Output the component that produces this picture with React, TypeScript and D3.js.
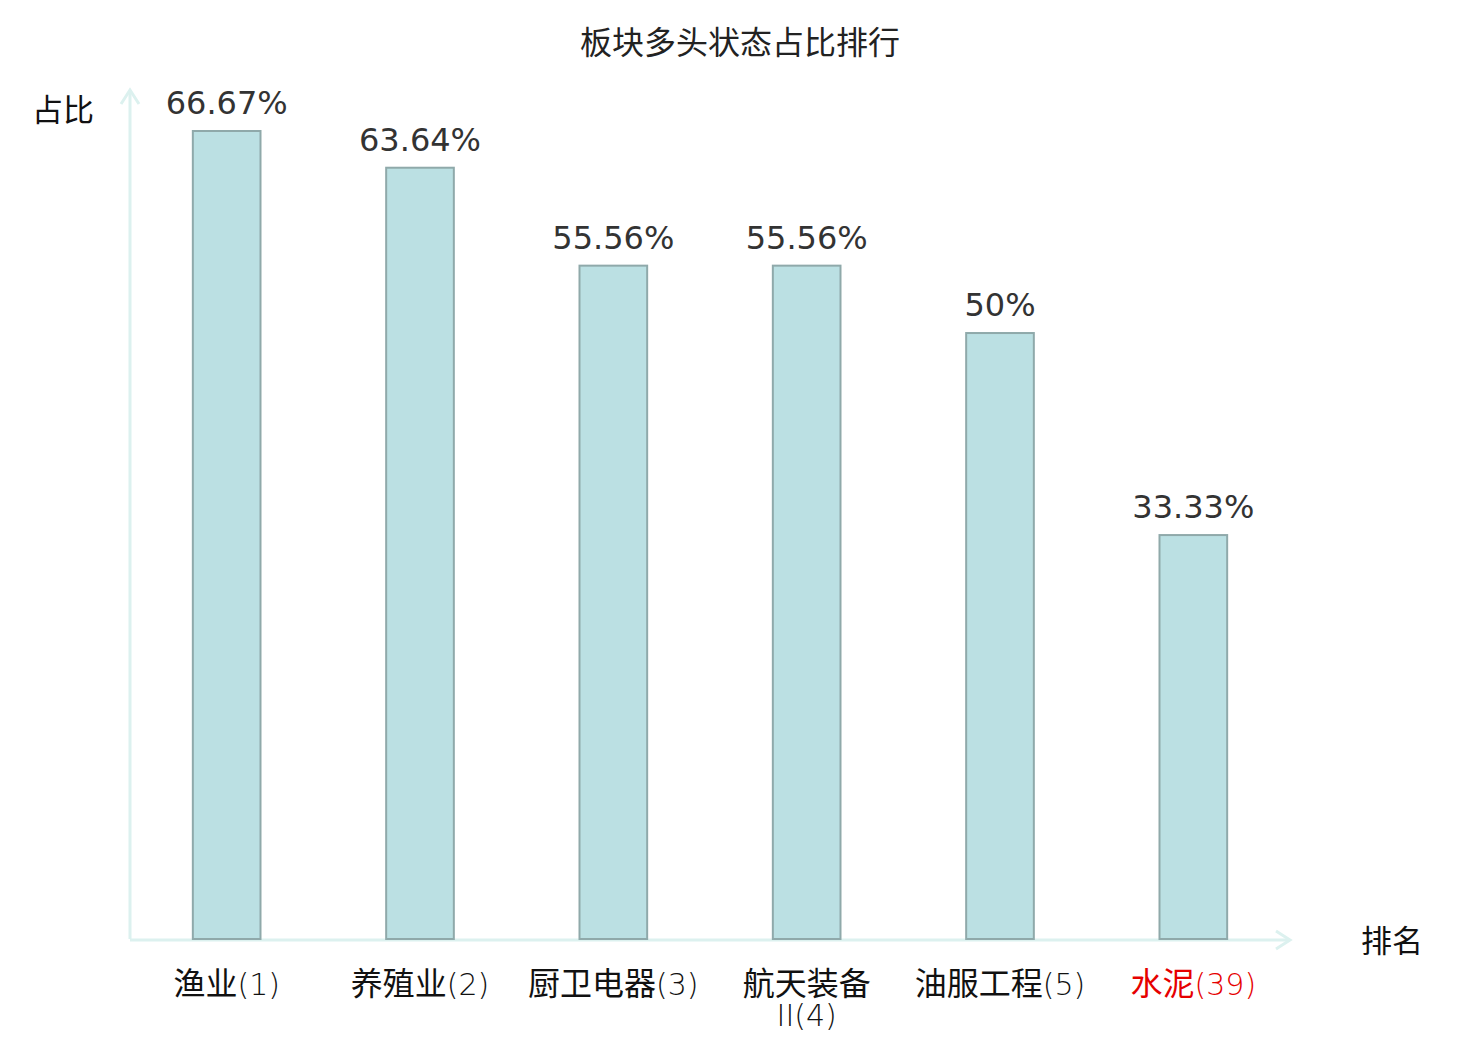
import React from "react";
import * as d3 from "d3";

const categories: string[] = ["渔业(1)", "养殖业(2)", "厨卫电器(3)", "航天装备II(4)", "油服工程(5)", "水泥(39)"];
const labelLines: string[][] = [["渔业(1)"], ["养殖业(2)"], ["厨卫电器(3)"], ["航天装备", "II(4)"], ["油服工程(5)"], ["水泥(39)"]];
const values: number[] = [66.67, 63.64, 55.56, 55.56, 50, 33.33];
const valueLabels: string[] = ["66.67%", "63.64%", "55.56%", "55.56%", "50%", "33.33%"];
const highlighted: string[] = ["水泥(39)"];

const W = 1480;
const H = 1040;
const FONT = "'DejaVu Sans', 'Noto Sans CJK SC', sans-serif";
const CJK = "'Noto Sans CJK SC', 'DejaVu Sans', sans-serif";
const AXIS = "#dcf1ef";

// split a label into runs of CJK (regular) and Latin (thin) characters
function runs(s: string): { t: string; cjk: boolean }[] {
  const out: { t: string; cjk: boolean }[] = [];
  for (const ch of s) {
    const cjk = /[\u3000-\u9fff]/.test(ch);
    if (out.length && out[out.length - 1].cjk === cjk) out[out.length - 1].t += ch;
    else out.push({ t: ch, cjk });
  }
  return out;
}

export default function App() {
  const x0 = 130;
  const x1 = 1290;
  const yBase = 939;
  const yTop = 131;
  const x = d3.scaleBand<string>().domain(categories).range([x0, x1]).paddingInner(0.65).paddingOuter(0.325);
  const y = d3.scaleLinear().domain([0, d3.max(values) as number]).range([yBase, yTop]);

  return (
    <div style={{ margin: -8 }}>
      <svg width={W} height={H} style={{ display: "block", background: "#fff" }} fontFamily={FONT}>
        <text x={740} y={54} textAnchor="middle" fontSize={32} fill="#222" fontFamily={CJK}>板块多头状态占比排行</text>
        <text x={63} y={121} textAnchor="middle" fontSize={31} fill="#111" fontFamily={CJK}>占比</text>
        <text x={1392} y={952} textAnchor="middle" fontSize={31} fill="#111" fontFamily={CJK}>排名</text>

        {/* axes */}
        <line x1={x0} y1={yBase} x2={x0} y2={90} stroke={AXIS} strokeWidth={3} />
        <polyline points={`${x0 - 9},${104} ${x0},${90} ${x0 + 9},${104}`} fill="none" stroke={AXIS} strokeWidth={3} />
        <line x1={x0} y1={yBase + 1} x2={x1} y2={yBase + 1} stroke={AXIS} strokeWidth={3} />
        <polyline points={`${x1 - 14},${yBase - 8} ${x1},${yBase + 1} ${x1 - 14},${yBase + 10}`} fill="none" stroke={AXIS} strokeWidth={3} />

        {categories.map((c, i) => {
          const bx = x(c) as number;
          const bw = x.bandwidth();
          const by = y(values[i]);
          const cx = bx + bw / 2;
          const isHi = highlighted.includes(c);
          return (
            <g key={c}>
              <rect x={bx} y={by} width={bw} height={yBase - by} fill="#bbe0e3" stroke="#8fa9aa" strokeWidth={2} />
              <text x={cx} y={by - 17} textAnchor="middle" fontSize={32} fill="#333">{valueLabels[i]}</text>
              <text x={cx} y={995} textAnchor="middle" fontSize={32} fontFamily={CJK} fill={isHi ? "#e60000" : "#111"}>
                {labelLines[i].map((ln, j) => (
                  <tspan key={j} x={cx} dy={j === 0 ? 0 : 31}>
                    {runs(ln).map((r, k) =>
                      r.cjk ? (
                        <tspan key={k}>{r.t}</tspan>
                      ) : (
                        <tspan key={k} fontFamily="'DejaVu Sans', sans-serif" fontWeight={200} fontSize={30}>{r.t}</tspan>
                      )
                    )}
                  </tspan>
                ))}
              </text>
            </g>
          );
        })}
      </svg>
    </div>
  );
}
